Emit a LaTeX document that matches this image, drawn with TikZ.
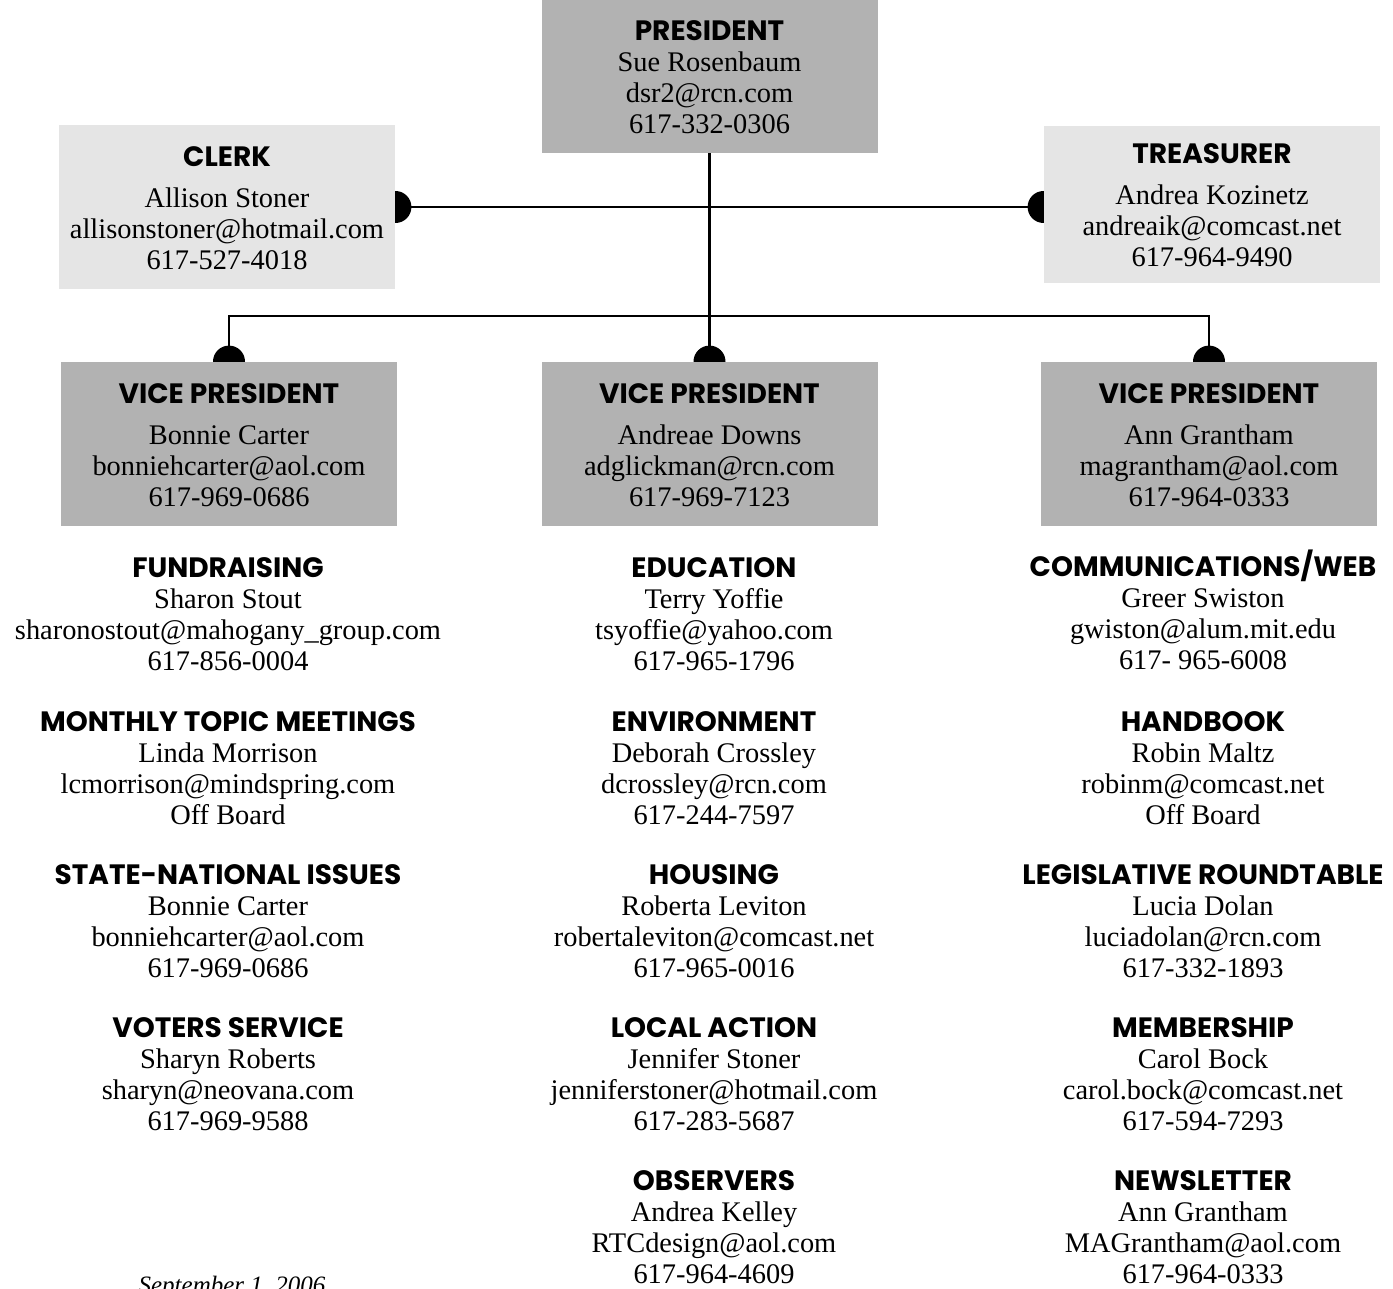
\documentclass[tikz,border=0pt]{standalone}
\usepackage{fontspec}
\setmainfont{Liberation Serif}
\newfontfamily\headfont{Poppins}
\usetikzlibrary{backgrounds}
\definecolor{boxdark}{gray}{0.70}
\definecolor{boxlight}{gray}{0.90}
\newcommand{\hd}[1]{{\headfont\bfseries\fontsize{14}{15.5}\selectfont\strut #1}}
\tikzset{
	officer/.style={fill=boxdark,inner sep=0pt,align=center,minimum width=168pt,
		font=\fontsize{14.2}{15.5}\selectfont},
	clerkbox/.style={officer,fill=boxlight},
	committee/.style={align=center,inner sep=0pt,font=\fontsize{14.2}{15.5}\selectfont},
	link/.style={line width=1.3pt},
	knob/.style={radius=8pt}
}
\begin{document}
\begin{tikzpicture}[x=0.5pt,y=-0.5pt]
		\useasboundingbox (0,0) rectangle (1393,1289);
		\clip (0,0) rectangle (1393,1289);
		% officers
		\node[officer,minimum height=76.5pt] (pres) at (709.5,76.5) {\hd{PRESIDENT}\\Sue Rosenbaum\\dsr2@rcn.com\\617-332-0306};
		\node[clerkbox,minimum height=82pt] (clerk) at (227,207) {\hd{CLERK}\\[5pt]Allison Stoner\\allisonstoner@hotmail.com\\617-527-4018};
		\node[clerkbox,minimum height=78.5pt] (treas) at (1212,204.5) {\hd{TREASURER}\\[5pt]Andrea Kozinetz\\andreaik@comcast.net\\617-964-9490};
		\node[officer,minimum height=82pt] (vpA) at (229,444) {\hd{VICE PRESIDENT}\\[5pt]Bonnie Carter\\bonniehcarter@aol.com\\617-969-0686};
		\node[officer,minimum height=82pt] (vpB) at (709.5,444) {\hd{VICE PRESIDENT}\\[5pt]Andreae Downs\\adglickman@rcn.com\\617-969-7123};
		\node[officer,minimum height=82pt] (vpC) at (1209,444) {\hd{VICE PRESIDENT}\\[5pt]Ann Grantham\\magrantham@aol.com\\617-964-0333};
		\coordinate (bar) at (709.5,316);
		\begin{pgfonlayer}{background}
			\draw[link](clerk.east)--(treas.west |- clerk.east);
			\draw[link](pres.south)--(vpB.north);
			\draw[link](vpA.north) |- (bar) -| (vpC.north);
			\fill[black](clerk.east) circle[knob] (treas.west |- clerk.east) circle[knob]
			(vpA.north) circle[knob] (vpB.north) circle[knob] (vpC.north) circle[knob];
		\end{pgfonlayer}
		% committees, left
		\node[committee] (fund) at (228,613.5) {\hd{FUNDRAISING}\\Sharon Stout\\sharonostout@mahogany\_group.com\\617-856-0004};
		\node[committee] (topic) at (228,767.5) {\hd{MONTHLY TOPIC MEETINGS}\\Linda Morrison\\lcmorrison@mindspring.com\\Off Board};
		\node[committee] (state) at (228,920.5) {\hd{STATE-NATIONAL ISSUES}\\Bonnie Carter\\bonniehcarter@aol.com\\617-969-0686};
		\node[committee] (voters) at (228,1073.5) {\hd{VOTERS SERVICE}\\Sharyn Roberts\\sharyn@neovana.com\\617-969-9588};
		% committees, middle
		\node[committee] (edu) at (714,613.5) {\hd{EDUCATION}\\Terry Yoffie\\tsyoffie@yahoo.com\\617-965-1796};
		\node[committee] (env) at (714,767.5) {\hd{ENVIRONMENT}\\Deborah Crossley\\dcrossley@rcn.com\\617-244-7597};
		\node[committee] (housing) at (714,920.5) {\hd{HOUSING}\\Roberta Leviton\\robertaleviton@comcast.net\\617-965-0016};
		\node[committee] (local) at (714,1073.5) {\hd{LOCAL ACTION}\\Jennifer Stoner\\jenniferstoner@hotmail.com\\617-283-5687};
		\node[committee] (observ) at (714,1226.5) {\hd{OBSERVERS}\\Andrea Kelley\\RTCdesign@aol.com\\617-964-4609};
		% committees, right
		\node[committee] (comm) at (1203,610) {\hd{COMMUNICATIONS/WEB}\\Greer Swiston\\gwiston@alum.mit.edu\\617- 965-6008};
		\node[committee] (hand) at (1203,767.5) {\hd{HANDBOOK}\\Robin Maltz\\robinm@comcast.net\\Off Board};
		\node[committee] (legis) at (1203,920.5) {\hd{LEGISLATIVE ROUNDTABLE}\\Lucia Dolan\\luciadolan@rcn.com\\617-332-1893};
		\node[committee] (member) at (1203,1073.5) {\hd{MEMBERSHIP}\\Carol Bock\\carol.bock@comcast.net\\617-594-7293};
		\node[committee] (news) at (1203,1226.5) {\hd{NEWSLETTER}\\Ann Grantham\\MAGrantham@aol.com\\617-964-0333};
		\node[font=\itshape\fontsize{12.5}{15}\selectfont,inner sep=0pt] (date) at (232,1287) {September 1, 2006};
	\end{tikzpicture}
\end{document}
